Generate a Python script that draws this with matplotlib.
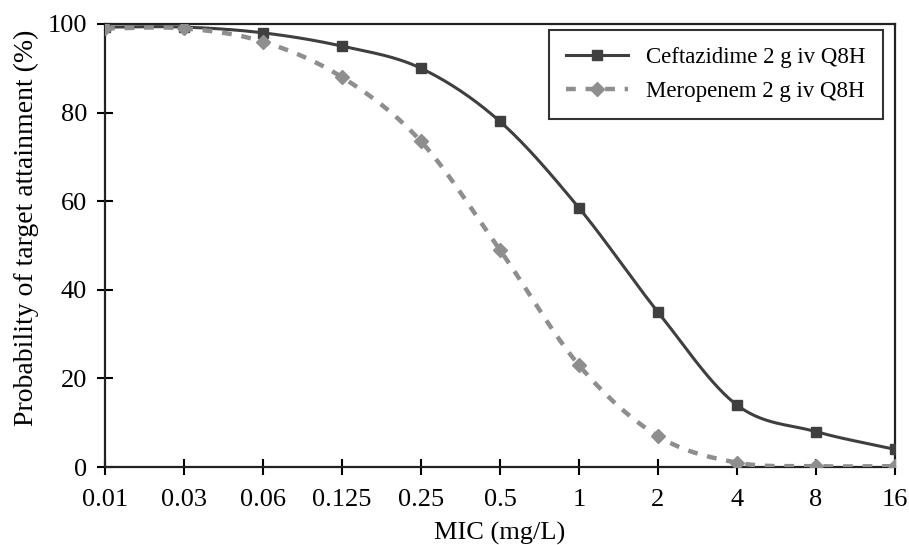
import numpy as np
import matplotlib
matplotlib.use("Agg")
import matplotlib.pyplot as plt

mic_labels = ["0.01", "0.03", "0.06", "0.125", "0.25", "0.5", "1", "2", "4", "8", "16"]
ceftazidime = [99.3, 99.3, 98, 95, 90, 78, 58.5, 35, 14, 8, 4]
meropenem = [99, 99, 96, 88, 73.5, 49, 23, 7, 1, 0.2, 0.2]


def smooth(x, y, n=30):
    # catmull-rom, like the "smoothed line" option in a spreadsheet
    x = np.asarray(x, float)
    y = np.asarray(y, float)
    px = np.concatenate([[2 * x[0] - x[1]], x, [2 * x[-1] - x[-2]]])
    py = np.concatenate([[2 * y[0] - y[1]], y, [2 * y[-1] - y[-2]]])
    xs, ys = [], []
    t = np.linspace(0, 1, n, endpoint=False)
    for i in range(1, len(px) - 2):
        for p, out in ((px, xs), (py, ys)):
            p0, p1, p2, p3 = p[i - 1], p[i], p[i + 1], p[i + 2]
            out.extend(0.5 * (2 * p1 + (-p0 + p2) * t
                              + (2 * p0 - 5 * p1 + 4 * p2 - p3) * t ** 2
                              + (-p0 + 3 * p1 - 3 * p2 + p3) * t ** 3))
    xs.append(x[-1])
    ys.append(y[-1])
    return np.array(xs), np.array(ys)


plt.rcParams['font.family'] = ['Liberation Serif', 'DejaVu Serif']

fig, ax = plt.subplots(figsize=(9.09, 5.45), dpi=100)
fig.subplots_adjust(left=0.1155, right=0.9845, top=0.956, bottom=0.143)

pos = np.arange(len(mic_labels))

c_dark = "#3f3f3f"
c_light = "#8e8e8e"
dash = (0, (2.2, 2.2))

sx, sy = smooth(pos, ceftazidime)
ax.plot(sx, sy, color=c_dark, lw=2.2, zorder=3)
ax.plot(pos, ceftazidime, ls="none", marker="s", ms=7.5, color=c_dark, zorder=4)

sx, sy = smooth(pos, meropenem)
ax.plot(sx, sy, color=c_light, lw=3.2, ls=dash, zorder=3)
ax.plot(pos, meropenem, ls="none", marker="D", ms=7, color=c_light, zorder=4)

# legend handles
h1, = ax.plot([], [], color=c_dark, lw=2.2, marker="s", ms=7.5)
h2, = ax.plot([], [], color=c_light, lw=3.2, ls=dash, marker="D", ms=7)
leg = ax.legend([h1, h2], ["Ceftazidime 2 g iv Q8H", "Meropenem 2 g iv Q8H"],
                loc="upper right", bbox_to_anchor=(0.985, 0.986), borderaxespad=0,
                fontsize=16.5, frameon=True, fancybox=False, edgecolor="black",
                handlelength=2.7, borderpad=0.75, labelspacing=0.55,
                handletextpad=0.8)
leg.get_frame().set_linewidth(1.5)

ax.set_xlim(0, len(mic_labels) - 1)
ax.set_ylim(0, 100)
ax.set_xticks(pos)
ax.set_xticklabels(mic_labels)
ax.set_yticks([0, 20, 40, 60, 80, 100])
ax.tick_params(direction="inout", length=12, width=1.5, labelsize=19, colors="black")
ax.tick_params(axis="x", pad=10)
ax.tick_params(axis="y", pad=7)

for s in ax.spines.values():
    s.set_linewidth(1.6)
    s.set_color("#222222")

ax.set_xlabel("MIC (mg/L)", fontsize=19, labelpad=8)
ax.set_ylabel("Probability of target attainment (%)", fontsize=20)
ax.yaxis.set_label_coords(-0.084, 0.54)

plt.savefig("out.png", dpi=100)
